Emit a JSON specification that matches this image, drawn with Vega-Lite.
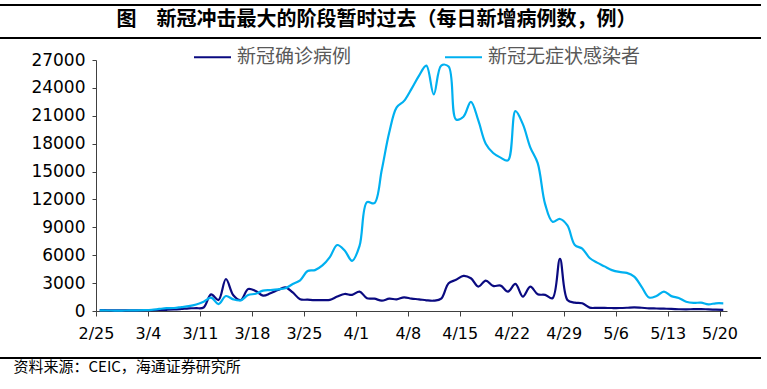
{
  "$schema": "https://vega.github.io/schema/vega-lite/v6.json",
  "width": 631,
  "height": 251,
  "autosize": {"type": "none"},
  "padding": {"left": 96, "top": 60, "right": 40, "bottom": 78},
  "background": "white",
  "config": {
    "view": {"stroke": null},
    "font": "Noto Sans CJK SC",
    "axisY": {"labelOverlap": false}
  },
  "title": {
    "text": "图　新冠冲击最大的阶段暂时过去（每日新增病例数，例）",
    "font": "Noto Sans CJK SC",
    "fontSize": 20,
    "fontWeight": "bold",
    "color": "#000000",
    "anchor": "middle",
    "frame": "group",
    "baseline": "middle",
    "dx": -35,
    "offset": -36
  },
  "data": {
    "values": [
      {"date": "2022-02-25", "新冠确诊病例": 100, "新冠无症状感染者": 60},
      {"date": "2022-02-26", "新冠确诊病例": 80, "新冠无症状感染者": 55},
      {"date": "2022-02-27", "新冠确诊病例": 60, "新冠无症状感染者": 50},
      {"date": "2022-02-28", "新冠确诊病例": 60, "新冠无症状感染者": 50},
      {"date": "2022-03-01", "新冠确诊病例": 60, "新冠无症状感染者": 60},
      {"date": "2022-03-02", "新冠确诊病例": 70, "新冠无症状感染者": 70},
      {"date": "2022-03-03", "新冠确诊病例": 80, "新冠无症状感染者": 90},
      {"date": "2022-03-04", "新冠确诊病例": 100, "新冠无症状感染者": 130},
      {"date": "2022-03-05", "新冠确诊病例": 110, "新冠无症状感染者": 220},
      {"date": "2022-03-06", "新冠确诊病例": 130, "新冠无症状感染者": 300},
      {"date": "2022-03-07", "新冠确诊病例": 160, "新冠无症状感染者": 320},
      {"date": "2022-03-08", "新冠确诊病例": 220, "新冠无症状感染者": 420},
      {"date": "2022-03-09", "新冠确诊病例": 290, "新冠无症状感染者": 520},
      {"date": "2022-03-10", "新冠确诊病例": 300, "新冠无症状感染者": 700},
      {"date": "2022-03-11", "新冠确诊病例": 380, "新冠无症状感染者": 1000},
      {"date": "2022-03-12", "新冠确诊病例": 1790, "新冠无症状感染者": 1430},
      {"date": "2022-03-13", "新冠确诊病例": 1180, "新冠无症状感染者": 750},
      {"date": "2022-03-14", "新冠确诊病例": 3440, "新冠无症状感染者": 1610},
      {"date": "2022-03-15", "新冠确诊病例": 1700, "新冠无症状感染者": 1250},
      {"date": "2022-03-16", "新冠确诊病例": 1180, "新冠无症状感染者": 1150},
      {"date": "2022-03-17", "新冠确诊病例": 2370, "新冠无症状感染者": 1720},
      {"date": "2022-03-18", "新冠确诊病例": 2150, "新冠无症状感染者": 1850},
      {"date": "2022-03-19", "新冠确诊病例": 1650, "新冠无症状感染者": 2190},
      {"date": "2022-03-20", "新冠确诊病例": 1900, "新冠无症状感染者": 2250},
      {"date": "2022-03-21", "新冠确诊病例": 2250, "新冠无症状感染者": 2330},
      {"date": "2022-03-22", "新冠确诊病例": 2550, "新冠无症状感染者": 2450},
      {"date": "2022-03-23", "新冠确诊病例": 2000, "新冠无症状感染者": 2900},
      {"date": "2022-03-24", "新冠确诊病例": 1260, "新冠无症状感染者": 3300},
      {"date": "2022-03-25", "新冠确诊病例": 1220, "新冠无症状感染者": 4300},
      {"date": "2022-03-26", "新冠确诊病例": 1180, "新冠无症状感染者": 4400},
      {"date": "2022-03-27", "新冠确诊病例": 1180, "新冠无症状感染者": 4900},
      {"date": "2022-03-28", "新冠确诊病例": 1200, "新冠无症状感染者": 5800},
      {"date": "2022-03-29", "新冠确诊病例": 1550, "新冠无症状感染者": 7100},
      {"date": "2022-03-30", "新冠确诊病例": 1830, "新冠无症状感染者": 6500},
      {"date": "2022-03-31", "新冠确诊病例": 1730, "新冠无症状感染者": 5400},
      {"date": "2022-04-01", "新冠确诊病例": 2090, "新冠无症状感染者": 7000},
      {"date": "2022-04-02", "新冠确诊病例": 1370, "新冠无症状感染者": 11700},
      {"date": "2022-04-03", "新冠确诊病例": 1330, "新冠无症状感染者": 11600},
      {"date": "2022-04-04", "新冠确诊病例": 1110, "新冠无症状感染者": 15200},
      {"date": "2022-04-05", "新冠确诊病例": 1330, "新冠无症状感染者": 19200},
      {"date": "2022-04-06", "新冠确诊病例": 1260, "新冠无症状感染者": 21900},
      {"date": "2022-04-07", "新冠确诊病例": 1470, "新冠无症状感染者": 22600},
      {"date": "2022-04-08", "新冠确诊病例": 1330, "新冠无症状感染者": 23900},
      {"date": "2022-04-09", "新冠确诊病例": 1260, "新冠无症状感染者": 25300},
      {"date": "2022-04-10", "新冠确诊病例": 1150, "新冠无症状感染者": 26400},
      {"date": "2022-04-11", "新冠确诊病例": 1110, "新冠无症状感染者": 23300},
      {"date": "2022-04-12", "新冠确诊病例": 1330, "新冠无症状感染者": 26400},
      {"date": "2022-04-13", "新冠确诊病例": 2990, "新冠无症状感染者": 26300},
      {"date": "2022-04-14", "新冠确诊病例": 3350, "新冠无症状感染者": 20600},
      {"date": "2022-04-15", "新冠确诊病例": 3780, "新冠无症状感染者": 20900},
      {"date": "2022-04-16", "新冠确诊病例": 3520, "新冠无症状感染者": 22500},
      {"date": "2022-04-17", "新冠确诊病例": 2630, "新冠无症状感染者": 20500},
      {"date": "2022-04-18", "新冠确诊病例": 3270, "新冠无症状感染者": 18000},
      {"date": "2022-04-19", "新冠确诊病例": 2700, "新冠无症状感染者": 17000},
      {"date": "2022-04-20", "新冠确诊病例": 2730, "新冠无症状感染者": 16500},
      {"date": "2022-04-21", "新冠确诊病例": 2090, "新冠无症状感染者": 16200},
      {"date": "2022-04-22", "新冠确诊病例": 2910, "新冠无症状感染者": 21500},
      {"date": "2022-04-23", "新冠确诊病例": 1550, "新冠无症状感染者": 20100},
      {"date": "2022-04-24", "新冠确诊病例": 2630, "新冠无症状感染者": 17600},
      {"date": "2022-04-25", "新冠确诊病例": 1800, "新冠无症状感染者": 15900},
      {"date": "2022-04-26", "新冠确诊病例": 1730, "新冠无症状感染者": 11500},
      {"date": "2022-04-27", "新冠确诊病例": 1370, "新冠无症状感染者": 9600},
      {"date": "2022-04-28", "新冠确诊病例": 5610, "新冠无症状感染者": 9900},
      {"date": "2022-04-29", "新冠确诊病例": 1190, "新冠无症状感染者": 9200},
      {"date": "2022-04-30", "新冠确诊病例": 900, "新冠无症状感染者": 7100},
      {"date": "2022-05-01", "新冠确诊病例": 830, "新冠无症状感染者": 6700},
      {"date": "2022-05-02", "新冠确诊病例": 360, "新冠无症状感染者": 5700},
      {"date": "2022-05-03", "新冠确诊病例": 340, "新冠无症状感染者": 5200},
      {"date": "2022-05-04", "新冠确诊病例": 330, "新冠无症状感染者": 4800},
      {"date": "2022-05-05", "新冠确诊病例": 320, "新冠无症状感染者": 4400},
      {"date": "2022-05-06", "新冠确诊病例": 320, "新冠无症状感染者": 4200},
      {"date": "2022-05-07", "新冠确诊病例": 350, "新冠无症状感染者": 4100},
      {"date": "2022-05-08", "新冠确诊病例": 400, "新冠无症状感染者": 3700},
      {"date": "2022-05-09", "新冠确诊病例": 350, "新冠无症状感染者": 2600},
      {"date": "2022-05-10", "新冠确诊病例": 290, "新冠无症状感染者": 1450},
      {"date": "2022-05-11", "新冠确诊病例": 270, "新冠无症状感染者": 1620},
      {"date": "2022-05-12", "新冠确诊病例": 250, "新冠无症状感染者": 2090},
      {"date": "2022-05-13", "新冠确诊病例": 230, "新冠无症状感染者": 1600},
      {"date": "2022-05-14", "新冠确诊病例": 190, "新冠无症状感染者": 1400},
      {"date": "2022-05-15", "新冠确诊病例": 170, "新冠无症状感染者": 1000},
      {"date": "2022-05-16", "新冠确诊病例": 200, "新冠无症状感染者": 870},
      {"date": "2022-05-17", "新冠确诊病例": 210, "新冠无症状感染者": 900},
      {"date": "2022-05-18", "新冠确诊病例": 170, "新冠无症状感染者": 720},
      {"date": "2022-05-19", "新冠确诊病例": 140, "新冠无症状感染者": 830},
      {"date": "2022-05-20", "新冠确诊病例": 130, "新冠无症状感染者": 830}
    ]
  },
  "layer": [
    {
      "transform": [
        {"fold": ["新冠确诊病例", "新冠无症状感染者"], "as": ["series", "value"]}
      ],
      "mark": {"type": "line", "interpolate": "catmull-rom", "strokeWidth": 2.2},
      "encoding": {
        "x": {
          "field": "date",
          "type": "temporal",
          "timeUnit": "utcyearmonthdate",
          "bandPosition": 0.5,
          "scale": {
            "domain": [
              {"year": 2022, "month": 2, "date": 25, "utc": true},
              {"year": 2022, "month": 5, "date": 21, "utc": true}
            ],
            "nice": false
          },
          "axis": {
            "values": [
              {"year": 2022, "month": 2, "date": 25, "utc": true},
              {"year": 2022, "month": 3, "date": 4, "utc": true},
              {"year": 2022, "month": 3, "date": 11, "utc": true},
              {"year": 2022, "month": 3, "date": 18, "utc": true},
              {"year": 2022, "month": 3, "date": 25, "utc": true},
              {"year": 2022, "month": 4, "date": 1, "utc": true},
              {"year": 2022, "month": 4, "date": 8, "utc": true},
              {"year": 2022, "month": 4, "date": 15, "utc": true},
              {"year": 2022, "month": 4, "date": 22, "utc": true},
              {"year": 2022, "month": 4, "date": 29, "utc": true},
              {"year": 2022, "month": 5, "date": 6, "utc": true},
              {"year": 2022, "month": 5, "date": 13, "utc": true},
              {"year": 2022, "month": 5, "date": 20, "utc": true}
            ],
            "labelExpr": "utcFormat(datum.value, '%-m/%-d')",
            "grid": false,
            "tickSize": 5,
            "tickColor": "#404040",
            "domainColor": "#404040",
            "labelFont": "DejaVu Sans",
            "labelFontSize": 16,
            "labelColor": "#000000",
            "labelPadding": 9,
            "labelFlush": false,
            "labelOverlap": false,
            "title": "资料来源：CEIC，海通证券研究所",
            "titleFont": "Noto Sans CJK SC",
            "titleFontSize": 15,
            "titleFontWeight": "normal",
            "titleColor": "#000000",
            "titleAlign": "left",
            "titleAnchor": "start",
            "titleBaseline": "middle",
            "titleX": -83,
            "titleY": 55
          }
        },
        "y": {
          "field": "value",
          "type": "quantitative",
          "scale": {"domain": [0, 27000], "nice": false},
          "axis": {
            "values": [0, 3000, 6000, 9000, 12000, 15000, 18000, 21000, 24000, 27000],
            "labelExpr": "format(datum.value, 'd')",
            "grid": false,
            "tickSize": 4,
            "tickColor": "#404040",
            "domainColor": "#404040",
            "labelFont": "DejaVu Sans",
            "labelFontSize": 17,
            "labelColor": "#000000",
            "labelPadding": 7,
            "labelOverlap": false,
            "labelFlush": false,
            "title": null
          }
        },
        "color": {
          "field": "series",
          "type": "nominal",
          "scale": {
            "domain": ["新冠确诊病例", "新冠无症状感染者"],
            "range": ["#0a0a80", "#00b0f0"]
          },
          "legend": {
            "orient": "none",
            "legendX": 97,
            "legendY": -22.5,
            "direction": "horizontal",
            "title": null,
            "padding": 0,
            "symbolType": "stroke",
            "symbolSize": 1369,
            "symbolStrokeWidth": 2,
            "labelFont": "Noto Sans CJK SC",
            "labelFontSize": 19,
            "labelColor": "#595959",
            "labelOffset": 5,
            "labelLimit": 400,
            "columnPadding": 89
          }
        }
      }
    },
    {
      "mark": {"type": "rule", "color": "#000000", "strokeWidth": 1.8},
      "encoding": {
        "x": {"datum": {"year": 2022, "month": 2, "date": 12, "utc": true}, "type": "temporal"},
        "x2": {"datum": {"year": 2022, "month": 5, "date": 25, "hours": 12, "utc": true}},
        "y": {
          "datum": 32900,
          "type": "quantitative",
          "axis": {
            "values": [0, 3000, 6000, 9000, 12000, 15000, 18000, 21000, 24000, 27000],
            "labelExpr": "format(datum.value, 'd')",
            "grid": false,
            "tickSize": 4,
            "tickColor": "#404040",
            "domainColor": "#404040",
            "labelFont": "DejaVu Sans",
            "labelFontSize": 17,
            "labelColor": "#000000",
            "labelPadding": 7,
            "labelOverlap": false,
            "labelFlush": false,
            "title": null
          }
        }
      }
    },
    {
      "mark": {"type": "rule", "color": "#000000", "strokeWidth": 1.4},
      "encoding": {
        "x": {"datum": {"year": 2022, "month": 2, "date": 12, "utc": true}, "type": "temporal"},
        "x2": {"datum": {"year": 2022, "month": 5, "date": 25, "hours": 12, "utc": true}},
        "y": {
          "datum": 29400,
          "type": "quantitative",
          "axis": {
            "values": [0, 3000, 6000, 9000, 12000, 15000, 18000, 21000, 24000, 27000],
            "labelExpr": "format(datum.value, 'd')",
            "grid": false,
            "tickSize": 4,
            "tickColor": "#404040",
            "domainColor": "#404040",
            "labelFont": "DejaVu Sans",
            "labelFontSize": 17,
            "labelColor": "#000000",
            "labelPadding": 7,
            "labelOverlap": false,
            "labelFlush": false,
            "title": null
          }
        }
      }
    },
    {
      "mark": {"type": "rule", "color": "#000000", "strokeWidth": 1.4},
      "encoding": {
        "x": {"datum": {"year": 2022, "month": 2, "date": 12, "utc": true}, "type": "temporal"},
        "x2": {"datum": {"year": 2022, "month": 5, "date": 25, "hours": 12, "utc": true}},
        "y": {
          "datum": -5050,
          "type": "quantitative",
          "axis": {
            "values": [0, 3000, 6000, 9000, 12000, 15000, 18000, 21000, 24000, 27000],
            "labelExpr": "format(datum.value, 'd')",
            "grid": false,
            "tickSize": 4,
            "tickColor": "#404040",
            "domainColor": "#404040",
            "labelFont": "DejaVu Sans",
            "labelFontSize": 17,
            "labelColor": "#000000",
            "labelPadding": 7,
            "labelOverlap": false,
            "labelFlush": false,
            "title": null
          }
        }
      }
    }
  ]
}
